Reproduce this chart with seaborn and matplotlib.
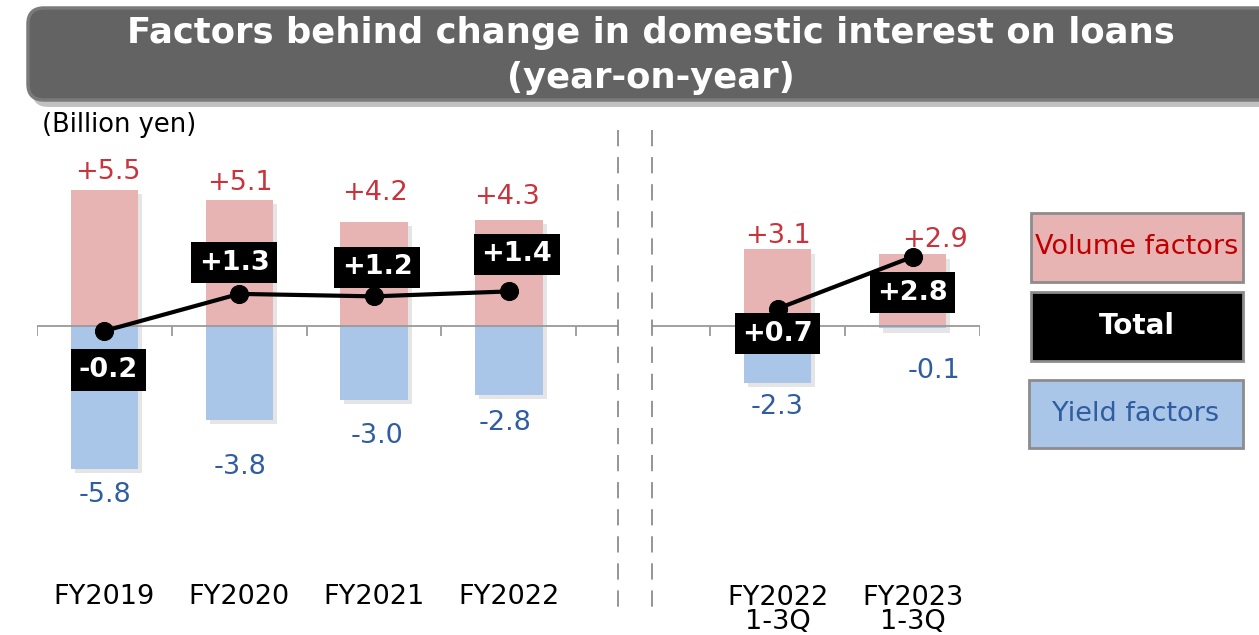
import numpy as np
import pandas as pd
import matplotlib
matplotlib.use("Agg")
import matplotlib.pyplot as plt
import matplotlib.patheffects as pe
from matplotlib.patches import FancyBboxPatch, Rectangle
from matplotlib.lines import Line2D
from matplotlib.transforms import IdentityTransform
import seaborn as sns

# Data (billion yen)
years = ["FY2019", "FY2020", "FY2021", "FY2022"]
volume = [5.5, 5.1, 4.2, 4.3]
yld = [-5.8, -3.8, -3.0, -2.8]
total = [-0.2, 1.3, 1.2, 1.4]

quarters = ["FY2022\n1-3Q", "FY2023\n1-3Q"]
volume_q = [3.1, 2.9]
yld_q = [-2.3, -0.1]
total_q = [0.7, 2.8]

# label offsets in pixels (placed by hand in the original slide)
vol_off = [(3, 18), (1, 17), (1, 29), (-2, 23)]
vol_off_q = [(0, 13), (22, 14)]
yld_off = [(1, -26), (1, -47), (3, -36), (-4, -28)]
yld_off_q = [(0, -24), (21, -43)]
tot_off = [(4, -39), (-5, 31), (3, 29), (8, 37)]
tot_off_q = [(0, -25), (0, -36)]

PINK = "#e8b3b3"
BLUE = "#a9c5e8"
RED_TXT = "#c8333c"
BLUE_TXT = "#2f5d9f"
AXIS_GRAY = "#9a9a9a"

sns.set_style("white")
plt.rcParams["font.family"] = ["DejaVu Sans"]

W, H = 1259, 635
fig = plt.figure(figsize=(W / 100, H / 100), dpi=100)

px = 24.7  # pixels per billion yen
zero_y = 326
ax_top, ax_bot = 140, 560
ylim = ((zero_y - ax_bot) / px, (zero_y - ax_top) / px)

ax1 = fig.add_axes([37 / W, 1 - ax_bot / H, (618 - 37) / W, (ax_bot - ax_top) / H])
ax2 = fig.add_axes([652 / W, 1 - ax_bot / H, (980 - 652) / W, (ax_bot - ax_top) / H])

shadow = [pe.SimplePatchShadow(offset=(3, -3), shadow_rgbFace="#9a9a9a", alpha=0.25), pe.Normal()]


def draw_panel(ax, cats, vol, yl, tot, voff, yoff, toff, xlim):
    df = pd.DataFrame({"cat": cats, "vol": vol, "yld": yl})
    sns.barplot(data=df, x="cat", y="vol", color=PINK, width=0.5, saturation=1, ax=ax)
    sns.barplot(data=df, x="cat", y="yld", color=BLUE, width=0.5, saturation=1, ax=ax)
    for p in ax.patches:
        p.set_path_effects(shadow)
        p.set_linewidth(0)
    n = len(cats)
    idx = np.arange(n)

    # zero axis with ticks between categories
    ax.axhline(0, color=AXIS_GRAY, lw=1.3, zorder=3)
    ticks = np.arange(-0.5, xlim[1] + 0.01, 1.0)
    ticks = ticks[ticks >= xlim[0]]
    ax.vlines(ticks, -0.4, 0, color=AXIS_GRAY, lw=1.3, zorder=3)

    sns.lineplot(x=idx, y=tot, color="black", lw=3, marker="o", markersize=13,
                 markeredgecolor="black", ax=ax, zorder=5)

    for i in idx:
        ax.annotate(f"+{vol[i]:.1f}", (i, vol[i]), xytext=voff[i], textcoords="offset pixels",
                    ha="center", va="center", color=RED_TXT, fontsize=19.5)
        ax.annotate(f"{yl[i]:.1f}", (i, yl[i]), xytext=yoff[i], textcoords="offset pixels",
                    ha="center", va="center", color=BLUE_TXT, fontsize=19.5)
        lab = f"{tot[i]:+.1f}"
        ax.annotate(lab, (i, tot[i]), xytext=toff[i], textcoords="offset pixels",
                    ha="center", va="center", color="white", fontsize=19.5, fontweight="bold",
                    bbox=dict(boxstyle="square,pad=0.28", fc="black", ec="none"), zorder=6)
        two = "\n" in cats[i]
        ax.text(i, (zero_y - (610 if two else 597)) / px, cats[i], ha="center", va="center",
                fontsize=19.5, color="black", linespacing=0.92, clip_on=False)

    ax.set_xlim(*xlim)
    ax.set_ylim(*ylim)
    ax.set_xticks([])
    ax.set_yticks([])
    ax.set_xlabel("")
    ax.set_ylabel("")
    sns.despine(ax=ax, left=True, bottom=True)
    ax.patch.set_alpha(0)


draw_panel(ax1, years, volume, yld, total, vol_off, yld_off, tot_off, (-0.5, 3.81))
draw_panel(ax2, quarters, volume_q, yld_q, total_q, vol_off_q, yld_off_q, tot_off_q, (-0.93, 1.5))

# dashed separators
for xpx in (618, 652):
    fig.add_artist(Line2D([xpx, xpx], [H - 130, H - 610], transform=IdentityTransform(),
                          color="#8c8c8c", lw=1.3, dashes=(9, 6)))

# title banner
banner = FancyBboxPatch((28, H - 100), 1300, 92, boxstyle="round,pad=0,rounding_size=16",
                        transform=IdentityTransform(), fc="#636363", ec="#7a7a7a", lw=2.5,
                        path_effects=[pe.SimplePatchShadow(offset=(3, -5), shadow_rgbFace="#777777", alpha=0.45),
                                      pe.Normal()])
fig.add_artist(banner)
fig.text(651 / W, 1 - 33 / H, "Factors behind change in domestic interest on loans",
         ha="center", va="center", color="white", fontsize=25.5, fontweight="bold")
fig.text(651 / W, 1 - 78 / H, "(year-on-year)",
         ha="center", va="center", color="white", fontsize=25.5, fontweight="bold")

fig.text(42 / W, 1 - 125 / H, "(Billion yen)", ha="left", va="center", fontsize=18.5, color="black")

# legend boxes
legend_items = [
    ((1031, H - 282, 212, 69), PINK, "Volume factors", "#c00000", "normal", 19.5),
    ((1031, H - 361, 212, 69), "black", "Total", "white", "bold", 20),
    ((1029, H - 448, 214, 68), BLUE, "Yield factors", BLUE_TXT, "normal", 19.5),
]
for (x0, y0, w, h), fc, txt, tc, fw, fs in legend_items:
    fig.add_artist(Rectangle((x0, y0), w, h, transform=IdentityTransform(), fc=fc, ec="#8c8c8c", lw=2))
    fig.text((x0 + w / 2) / W, (y0 + h / 2) / H, txt, ha="center", va="center",
             color=tc, fontsize=fs, fontweight=fw)

fig.savefig("out.png", dpi=100)
